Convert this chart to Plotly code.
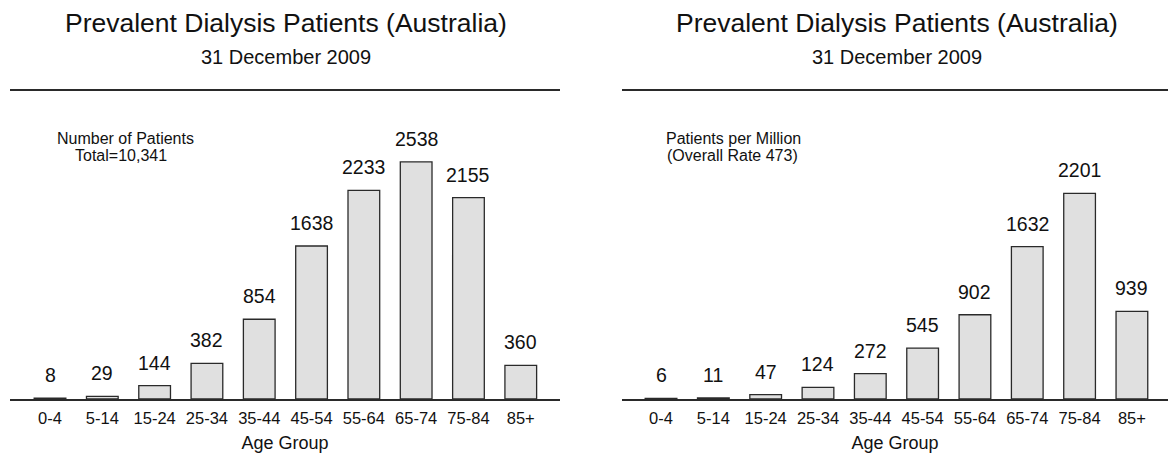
import plotly.graph_objects as go

age_groups = ["0-4", "5-14", "15-24", "25-34", "35-44", "45-54", "55-64", "65-74", "75-84", "85+"]
num_patients = [8, 29, 144, 382, 854, 1638, 2233, 2538, 2155, 360]
per_million = [6, 11, 47, 124, 272, 545, 902, 1632, 2201, 939]

title_text = "Prevalent Dialysis Patients (Australia)"
subtitle_text = "31 December 2009"
left_note = ["Number of Patients", "Total=10,341"]
right_note = ["Patients per Million", "(Overall Rate 473)"]
x_title = "Age Group"

W, H = 1168, 454
FONT = "Liberation Sans, Arial, sans-serif"
ink = "#2a2a2a"
bar_fill = "#e0e0e0"
txt = "#111111"

fig = go.Figure()


def px_x(p):
    return p / W


def px_y(p):
    return 1 - p / H


base_px, top_px = 399, 90.5
ymax = 3303

panels = [
    dict(vals=num_patients, xa="x", ya="y", xdom=(10, 560), xr=(-0.765, 9.75),
         note=left_note, note_x=(125, 121), title_x=286),
    dict(vals=per_million, xa="x2", ya="y2", xdom=(622, 1168), xr=(-0.746, 9.69),
         note=right_note, note_x=(733, 732), title_x=897),
]

for p in panels:
    fig.add_trace(go.Bar(
        x=list(range(len(age_groups))), y=p["vals"], xaxis=p["xa"], yaxis=p["ya"],
        width=0.606, marker=dict(color=bar_fill, line=dict(color=ink, width=1.3)),
        showlegend=False, hoverinfo="x+y",
    ))
    for j, v in enumerate(p["vals"]):
        fig.add_annotation(x=j, y=v, xref=p["xa"], yref=p["ya"], text=str(v),
                           showarrow=False, yanchor="middle", yshift=23,
                           font=dict(size=19.5, color=txt, family=FONT))
    for k, (line, ny) in enumerate(zip(p["note"], (138.5, 155))):
        fig.add_annotation(x=px_x(p["note_x"][k]), y=px_y(ny), xref="paper", yref="paper",
                           text=line, showarrow=False, xanchor="center", yanchor="middle",
                           font=dict(size=16, color=txt, family=FONT))
    fig.add_annotation(x=px_x(p["title_x"]), y=px_y(22.5), xref="paper", yref="paper",
                       text=title_text, showarrow=False, xanchor="center", yanchor="middle",
                       font=dict(size=26.5, color=txt, family=FONT))
    fig.add_annotation(x=px_x(p["title_x"]), y=px_y(57), xref="paper", yref="paper",
                       text=subtitle_text, showarrow=False, xanchor="center", yanchor="middle",
                       font=dict(size=20, color=txt, family=FONT))

for i, p in enumerate(panels):
    suffix = "" if i == 0 else "2"
    fig.update_layout(**{
        "xaxis" + suffix: dict(
            domain=[px_x(p["xdom"][0]), px_x(p["xdom"][1])], range=list(p["xr"]),
            tickmode="array", tickvals=list(range(len(age_groups))), ticktext=age_groups,
            showline=True, linecolor=ink, linewidth=1.5, mirror=True,
            ticks="outside", ticklen=3, tickcolor="rgba(0,0,0,0)",
            tickfont=dict(size=16.5, color=txt, family=FONT),
            title=dict(text=x_title, font=dict(size=18, color=txt, family=FONT), standoff=11),
            anchor="y" + suffix, fixedrange=True, showgrid=False, zeroline=False),
        "yaxis" + suffix: dict(
            domain=[px_y(base_px), px_y(top_px)], range=[0, ymax], visible=False,
            anchor="x" + suffix, fixedrange=True, showgrid=False, zeroline=False),
    })

fig.update_layout(
    width=W, height=H, margin=dict(l=0, r=0, t=0, b=0),
    paper_bgcolor="white", plot_bgcolor="white",
    font=dict(family=FONT, color=txt),
)

fig.write_html("out.html", config={"displayModeBar": False},
               post_script="document.body.style.margin='0';document.body.style.overflow='hidden';")
